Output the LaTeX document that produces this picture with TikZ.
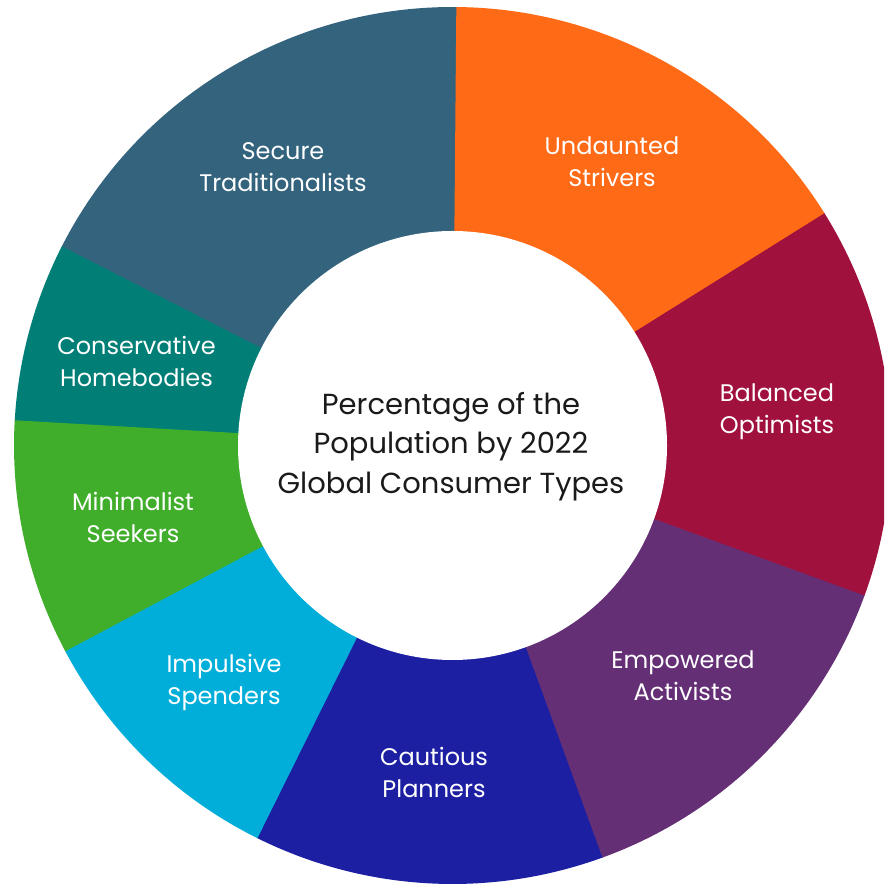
\documentclass[tikz,border=0pt]{standalone}
\usepackage{fontspec}
\setmainfont{Poppins}
\definecolor{cSlate}{HTML}{33637D}
\definecolor{cOrange}{HTML}{FE6A16}
\definecolor{cCrimson}{HTML}{A1113D}
\definecolor{cPurple}{HTML}{642F75}
\definecolor{cBlue}{HTML}{1D1FA2}
\definecolor{cCyan}{HTML}{00AED9}
\definecolor{cGreen}{HTML}{40AE2A}
\definecolor{cTeal}{HTML}{017F77}
\definecolor{cText}{HTML}{1A1A1A}
\tikzset{
  seglabel/.style={align=center, text=white, font=\fontsize{24}{32}\selectfont, inner sep=0pt},
  centerlabel/.style={align=center, text=cText, font=\fontsize{29}{39.5}\selectfont, inner sep=0pt}
}
\newcommand{\Rout}{438.5pt}
\newcommand{\Rin}{214.5pt}
\newcommand{\seg}[3]{\fill[#1] (C) -- ++(#2:\Rout) arc[start angle=#2, end angle=#3, radius=\Rout] -- cycle;}
\begin{document}
\begin{tikzpicture}[x=1pt,y=1pt]
\useasboundingbox (0,0) rectangle (884,885);
\clip (0,0) rectangle (884,885);
\fill[white] (0,0) rectangle (884,885);
\coordinate (C) at (452.5,439.5);
\seg{cSlate}{89.4}{153.1}
\seg{cTeal}{153}{176.8}
\seg{cGreen}{176.7}{208.1}
\seg{cCyan}{208}{243.7}
\seg{cBlue}{243.6}{290.1}
\seg{cPurple}{290}{340.1}
\seg{cCrimson}{340}{392.1}
\seg{cOrange}{32}{89.5}
\fill[white] (C) circle[radius=\Rin];
\node[centerlabel] (center) at (451,438.5) {Percentage of the\\Population by 2022\\Global Consumer Types};
\node[seglabel] (secure) at (283,718) {Secure\\Traditionalists};
\node[seglabel] (undaunted) at (612,723) {Undaunted\\Strivers};
\node[seglabel] (balanced) at (777,473) {Balanced\\Optimists};
\node[seglabel] (empowered) at (683,209) {Empowered\\Activists};
\node[seglabel] (cautious) at (434,113) {Cautious\\Planners};
\node[seglabel] (impulsive) at (224,203) {Impulsive\\Spenders};
\node[seglabel] (minimalist) at (133,368) {Minimalist\\Seekers};
\node[seglabel] (conservative) at (136.5,524) {Conservative\\Homebodies};
\end{tikzpicture}
\end{document}
